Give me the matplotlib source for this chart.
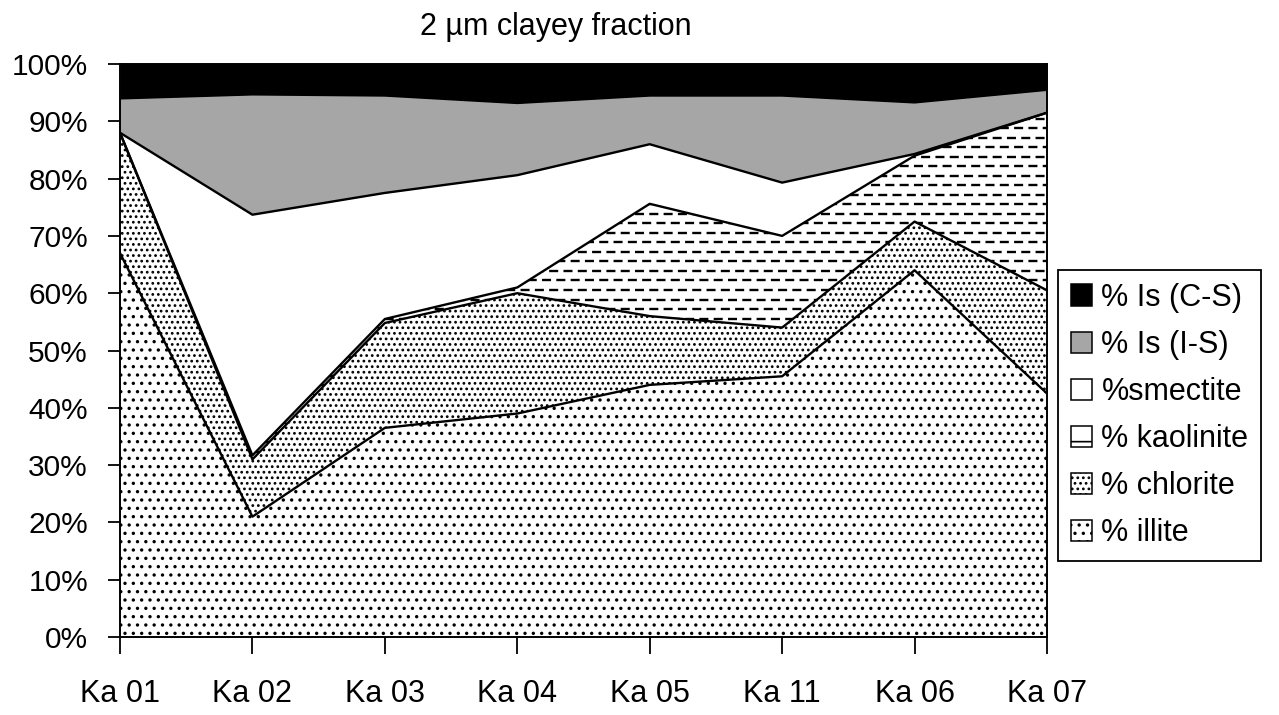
import matplotlib
matplotlib.use("Agg")
import matplotlib.pyplot as plt
import numpy as np

plt.rcParams['font.family'] = ['Liberation Sans', 'DejaVu Sans']
plt.rcParams['hatch.color'] = 'black'
plt.rcParams['hatch.linewidth'] = 1.2
plt.rcParams['lines.scale_dashes'] = False

samples = ["Ka 01", "Ka 02", "Ka 03", "Ka 04", "Ka 05", "Ka 11", "Ka 06", "Ka 07"]
illite = [67.0, 21.0, 36.5, 39.0, 44.0, 45.5, 64.0, 42.5]
chlorite = [21.0, 10.0, 18.3, 21.0, 12.0, 8.5, 8.5, 18.0]
kaolinite = [0.0, 0.7, 0.7, 1.0, 19.6, 16.0, 11.5, 31.0]
smectite = [0.0, 42.0, 22.0, 19.6, 10.4, 9.3, 0.3, 0.0]
is_is = [6.0, 21.0, 17.0, 12.6, 8.5, 15.2, 9.0, 4.0]
is_cs = [6.0, 5.3, 5.5, 6.8, 5.5, 5.5, 6.7, 4.5]

labels = ["% illite", "% chlorite", "% kaolinite", "%smectite", "% Is (I-S)", "% Is (C-S)"]
series = [illite, chlorite, kaolinite, smectite, is_is, is_cs]

W, H = 1279, 715
FS = 22
fig = plt.figure(figsize=(W / 100, H / 100), dpi=100)
ax = fig.add_axes([120 / W, 1 - 637 / H, (1047 - 120) / W, (637 - 64) / H])

x = np.arange(len(samples))
data = np.array(series, dtype=float)
tot = data.sum(axis=0)
pct = data / tot * 100.0
cum = np.vstack([np.zeros(len(samples)), np.cumsum(pct, axis=0)])

styles = [
    dict(facecolor='white', hatch='..'),
    dict(facecolor='white', hatch='...'),
    dict(facecolor='white', hatch=None),
    dict(facecolor='white', hatch=None),
    dict(facecolor='#a6a6a6', hatch=None),
    dict(facecolor='black', hatch=None),
]

handles = []
for i, (lab, st) in enumerate(zip(labels, styles)):
    poly = ax.fill_between(x, cum[i], cum[i + 1], facecolor=st['facecolor'],
                           hatch=st['hatch'], edgecolor='black', linewidth=0,
                           zorder=1)
    if i == 2:
        # dashed-line texture for kaolinite, clipped to its area
        on, off = 6.5, 3.8
        for k, yy in enumerate(np.arange(0.8, 100, 1.66)):
            off0 = 0 if k % 2 == 0 else (on + off) / 2
            ln, = ax.plot([0, 7], [yy, yy], color='black', lw=1.7,
                          linestyle=(off0, (on, off)), dash_capstyle='butt',
                          zorder=1.5)
            ln.set_clip_path(poly.get_paths()[0], transform=ax.transData)
    handles.append(poly)
    ax.plot(x, cum[i + 1], color='black', lw=1.7, zorder=2)

ax.set_xlim(0, len(samples) - 1)
ax.set_ylim(0, 100)
ax.set_yticks(np.arange(0, 101, 10))
ax.set_yticklabels([f"{v}%" for v in range(0, 101, 10)])
ax.set_xticks(x)
ax.set_xticklabels(samples)
ax.tick_params(axis='y', direction='out', length=9, width=1.3, labelsize=FS - 0.5, pad=14)
ax.tick_params(axis='x', direction='out', length=12, width=1.3, labelsize=FS, pad=18)
for s in ax.spines.values():
    s.set_linewidth(1.4)
    s.set_zorder(3)

fig.text(556 / W, 1 - 27 / H, "2 µm clayey fraction", ha='center', va='center',
         fontsize=FS)

leg = fig.legend(handles[::-1], labels[::-1], loc='upper left',
                 bbox_to_anchor=(1058 / W, 1 - 270 / H), borderaxespad=0,
                 fontsize=FS, frameon=True, fancybox=False, edgecolor='black',
                 framealpha=1, handlelength=0.7, handleheight=0.7,
                 handletextpad=0.3, labelspacing=0.56, borderpad=0.42)
leg.get_frame().set_linewidth(1.3)
for lab, h in zip(labels[::-1], leg.legend_handles):
    h.set_edgecolor('black')
    h.set_linewidth(1.1)
    if lab == "% kaolinite":
        h.set_hatch('-')

fig.savefig("out.png", dpi=100)
